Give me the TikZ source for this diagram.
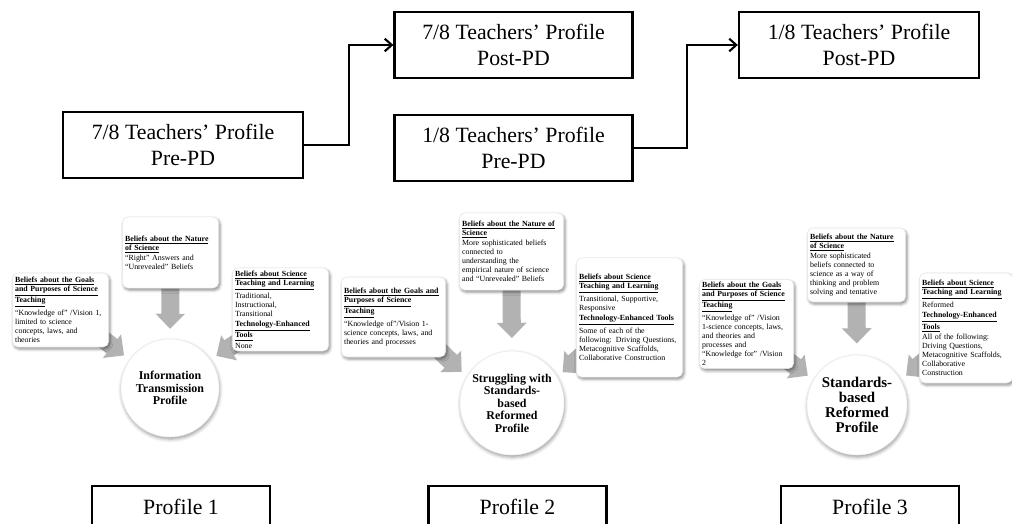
\documentclass[tikz,border=0pt]{standalone}
\usepackage{fontspec}
\setmainfont{Liberation Serif}
\usepackage{tikz}
\usetikzlibrary{arrows.meta,positioning,calc,shadows,shadows.blur}
\pgfdeclarelayer{back}
\pgfsetlayers{back,main}
\tikzset
{
    pdbox/.style    = {rectangle, draw=black, line width=1.6pt, fill=white, align=center, minimum width=6cm, minimum height=1.65cm, font=\fontsize{15.5}{19}\selectfont},
    profbox/.style  = {rectangle, draw=black, line width=1.6pt, fill=white, minimum width=4.45cm, minimum height=1.05cm, font=\fontsize{15.5}{19}\selectfont},
    infobox/.style  = {rectangle, rounded corners=4pt, draw=black!10, fill=white, align=left, inner xsep=2pt, inner ysep=2pt, font=\fontsize{5.6}{6.4}\selectfont, blur shadow={shadow xshift=1pt, shadow yshift=-1.5pt, shadow blur radius=2pt, shadow opacity=45}},
    profcirc/.style = {circle, draw=black!8, fill=white, align=center, inner sep=0pt, font=\bfseries\fontsize{8.5}{8.9}\selectfont, blur shadow={shadow xshift=0.5pt, shadow yshift=-1.5pt, shadow blur radius=2.5pt, shadow opacity=40}},
    flow/.style     = {draw=black, line width=1.5pt, -{Straight Barb[length=5pt, width=9pt]}},
    fatarrow/.style = {draw=black!30, line width=0.45cm, -{Triangle[length=0.38cm, width=0.72cm]}}
}
\newcommand{\uhead}[1]{\textbf{\underline{#1}}}

\begin{document}
\begin{tikzpicture}[x=0.025cm, y=-0.025cm]
    \clip (0,0) rectangle (1012,524);

    % PD profiles
    \node [pdbox] (pre78) at (183,145) {7/8 Teachers’ Profile\\Pre-PD};
    \node [pdbox, minimum width=5.95cm] (post78) at (513.5,45) {7/8 Teachers’ Profile\\Post-PD};
    \node [pdbox, minimum width=5.95cm] (pre18) at (513.5,148) {1/8 Teachers’ Profile\\Pre-PD};
    \node [pdbox] (post18) at (859,45) {1/8 Teachers’ Profile\\Post-PD};
    \draw [flow] (pre78.east) -- ++(45,0) |- (post78.west);
    \draw [flow] (pre18.east) -- ++(53,0) |- (post18.west);

    % profile 1
    \node [profcirc, minimum size=2.45cm] (circ1) at (170,388) {Information\\Transmission\\Profile};
    \node [infobox, text width=2.27cm, minimum height=1.85cm] (goal1) at (60.5,310)
    {
        \uhead{Beliefs about the Goals}\\\uhead{and Purposes of Science}\\\uhead{Teaching}\\[1pt]
        “Knowledge of” /Vision 1,\\limited to science\\concepts, laws, and\\theories
    };
    \node [infobox, text width=2.27cm, minimum height=1.78cm] (nat1) at (170.5,252.5)
    {
        \uhead{Beliefs about the Nature}\\\uhead{of Science}\\[1pt]
        “Right” Answers and\\“Unrevealed” Beliefs
    };
    \node [infobox, text width=2.27cm, minimum height=1.88cm] (teach1) at (280.5,309.5)
    {
        \uhead{Beliefs about Science}\\\uhead{Teaching and Learning}\\[1pt]
        Traditional,\\Instructional,\\Transitional\\[1pt]
        \uhead{Technology-Enhanced}\\\uhead{Tools}\\[1pt]
        None
    };

    % profile 2
    \node [profcirc, minimum size=2.6cm] (circ2) at (512,403) {Struggling with\\Standards-\\based\\Reformed\\Profile};
    \node [infobox, text width=2.47cm, minimum height=2cm] (goal2) at (393.5,317)
    {
        \uhead{Beliefs about the Goals and}\\\uhead{Purposes of Science}\\\uhead{Teaching}\\[1pt]
        “Knowledge of”/Vision 1-\\science concepts, laws, and\\theories and processes
    };
    \node [infobox, text width=2.47cm, minimum height=1.93cm] (nat2) at (511.5,251.5)
    {
        \uhead{Beliefs about the Nature of}\\\uhead{Science}\\[1pt]
        More sophisticated beliefs\\connected to\\understanding the\\empirical nature of science\\and “Unrevealed” Beliefs
    };
    \node [infobox, text width=2.52cm, minimum height=2.98cm] (teach2) at (629.5,317.5)
    {
        \uhead{Beliefs about Science}\\\uhead{Teaching and Learning}\\[1pt]
        Transitional, Supportive,\\Responsive\\[1pt]
        \uhead{Technology-Enhanced Tools}\\[1pt]
        Some of each of the\\following: Driving Questions,\\Metacognitive Scaffolds,\\Collaborative Construction
    };

    % profile 3
    \node [profcirc, minimum size=2.5cm, font=\bfseries\fontsize{10.6}{10.8}\selectfont] (circ3) at (857,405) {Standards-\\based\\Reformed\\Profile};
    \node [infobox, text width=2.22cm, minimum height=2.05cm] (goal3) at (746.5,324)
    {
        \uhead{Beliefs about the Goals}\\\uhead{and Purposes of Science}\\\uhead{Teaching}\\[1pt]
        “Knowledge of” /Vision\\1-science concepts, laws,\\and theories and\\processes and\\“Knowledge for” /Vision\\2
    };
    \node [infobox, text width=2.32cm, minimum height=1.85cm] (nat3) at (856.5,265)
    {
        \uhead{Beliefs about the Nature}\\\uhead{of Science}\\[1pt]
        More sophisticated\\beliefs connected to\\science as a way of\\thinking and problem\\solving and tentative
    };
    \node [infobox, text width=2.19cm, minimum height=2.75cm] (teach3) at (966,328)
    {
        \uhead{Beliefs about Science}\\\uhead{Teaching and Learning}\\[1pt]
        Reformed\\[1pt]
        \uhead{Technology-Enhanced}\\\uhead{Tools}\\[1pt]
        All of the following:\\Driving Questions,\\Metacognitive Scaffolds,\\Collaborative\\Construction
    };

    \begin{pgfonlayer}{back}
        \draw [fatarrow, shorten >=7] (nat1.south) -- (circ1.north);
        \draw [fatarrow, shorten >=5] ($(goal1.south east)+(-15,-15)$) -- (circ1.145);
        \draw [fatarrow, shorten >=5] ($(teach1.south west)+(15,-15)$) -- (circ1.35);
        \draw [fatarrow, shorten >=9] (nat2.south) -- (circ2.north);
        \draw [fatarrow, shorten >=5] ($(goal2.south east)+(-15,-15)$) -- (circ2.150);
        \draw [fatarrow, shorten >=5] ($(teach2.south west)+(15,-30)$) -- (circ2.30);
        \draw [fatarrow, shorten >=8] (nat3.south) -- (circ3.north);
        \draw [fatarrow, shorten >=5] ($(goal3.south east)+(-15,-15)$) -- (circ3.150);
        \draw [fatarrow, shorten >=5] ($(teach3.south west)+(15,-30)$) -- (circ3.30);
    \end{pgfonlayer}

    % profile labels
    \node [profbox] (prof1) at (181,507) {Profile 1};
    \node [profbox] (prof2) at (517.5,507) {Profile 2};
    \node [profbox] (prof3) at (870,507) {Profile 3};
\end{tikzpicture}
\end{document}
